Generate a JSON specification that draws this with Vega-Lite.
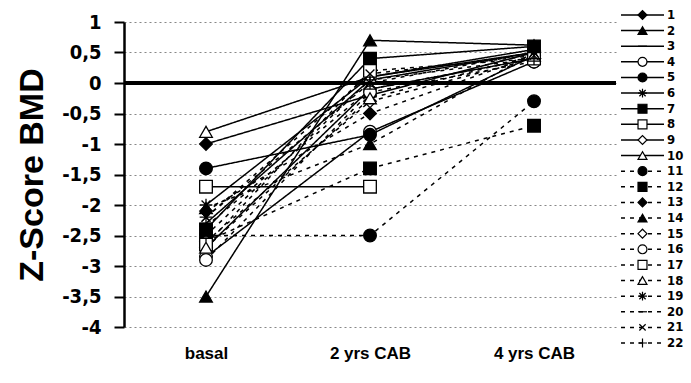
{
  "$schema": "https://vega.github.io/schema/vega-lite/v6.json",
  "background": "white",
  "padding": {"left": 15, "top": 8, "right": 5, "bottom": 5},
  "config": {"view": {"stroke": null}, "font": "Liberation Sans"},
  "datasets": {
    "bmd": [
      {"id": 1, "time": "basal", "z": -1.0}, {"id": 1, "time": "2 yrs CAB", "z": -0.2}, {"id": 1, "time": "4 yrs CAB", "z": 0.5},
      {"id": 2, "time": "basal", "z": -3.5}, {"id": 2, "time": "2 yrs CAB", "z": 0.7}, {"id": 2, "time": "4 yrs CAB", "z": 0.62},
      {"id": 3, "time": "basal", "z": -2.3}, {"id": 3, "time": "2 yrs CAB", "z": 0.05}, {"id": 3, "time": "4 yrs CAB", "z": 0.5},
      {"id": 4, "time": "basal", "z": -2.85}, {"id": 4, "time": "2 yrs CAB", "z": -0.8}, {"id": 4, "time": "4 yrs CAB", "z": 0.35},
      {"id": 5, "time": "basal", "z": -1.4}, {"id": 5, "time": "2 yrs CAB", "z": -0.85}, {"id": 5, "time": "4 yrs CAB", "z": 0.45},
      {"id": 6, "time": "basal", "z": -2.0}, {"id": 6, "time": "2 yrs CAB", "z": 0.1}, {"id": 6, "time": "4 yrs CAB", "z": 0.55},
      {"id": 7, "time": "basal", "z": -2.4}, {"id": 7, "time": "2 yrs CAB", "z": 0.4}, {"id": 7, "time": "4 yrs CAB", "z": 0.6},
      {"id": 8, "time": "basal", "z": -1.7}, {"id": 8, "time": "2 yrs CAB", "z": -1.7},
      {"id": 9, "time": "basal", "z": -2.7}, {"id": 9, "time": "2 yrs CAB", "z": -0.1}, {"id": 9, "time": "4 yrs CAB", "z": 0.4},
      {"id": 10, "time": "basal", "z": -0.8}, {"id": 10, "time": "2 yrs CAB", "z": 0.1}, {"id": 10, "time": "4 yrs CAB", "z": 0.5},
      {"id": 11, "time": "basal", "z": -2.5}, {"id": 11, "time": "2 yrs CAB", "z": -2.5}, {"id": 11, "time": "4 yrs CAB", "z": -0.3},
      {"id": 12, "time": "basal", "z": -2.6}, {"id": 12, "time": "2 yrs CAB", "z": -1.4}, {"id": 12, "time": "4 yrs CAB", "z": -0.7},
      {"id": 13, "time": "basal", "z": -2.1}, {"id": 13, "time": "2 yrs CAB", "z": -0.5}, {"id": 13, "time": "4 yrs CAB", "z": 0.45},
      {"id": 14, "time": "basal", "z": -2.05}, {"id": 14, "time": "2 yrs CAB", "z": -1.0}, {"id": 14, "time": "4 yrs CAB", "z": 0.5},
      {"id": 15, "time": "basal", "z": -2.6}, {"id": 15, "time": "2 yrs CAB", "z": -0.3}, {"id": 15, "time": "4 yrs CAB", "z": 0.4},
      {"id": 16, "time": "basal", "z": -2.9}, {"id": 16, "time": "2 yrs CAB", "z": -0.15}, {"id": 16, "time": "4 yrs CAB", "z": 0.35},
      {"id": 17, "time": "basal", "z": -2.65}, {"id": 17, "time": "2 yrs CAB", "z": 0.2}, {"id": 17, "time": "4 yrs CAB", "z": 0.4},
      {"id": 18, "time": "basal", "z": -2.7}, {"id": 18, "time": "2 yrs CAB", "z": -0.25}, {"id": 18, "time": "4 yrs CAB", "z": 0.45},
      {"id": 19, "time": "basal", "z": -2.2}, {"id": 19, "time": "2 yrs CAB", "z": 0.0}, {"id": 19, "time": "4 yrs CAB", "z": 0.5},
      {"id": 20, "time": "basal", "z": -2.35}, {"id": 20, "time": "2 yrs CAB", "z": -0.1}, {"id": 20, "time": "4 yrs CAB", "z": 0.4},
      {"id": 21, "time": "basal", "z": -2.2}, {"id": 21, "time": "2 yrs CAB", "z": 0.15}, {"id": 21, "time": "4 yrs CAB", "z": 0.45},
      {"id": 22, "time": "basal", "z": -2.5}, {"id": 22, "time": "2 yrs CAB", "z": 0.05}, {"id": 22, "time": "4 yrs CAB", "z": 0.4}
    ]
  },
  "bounds": "flush",
  "spacing": 5,
  "resolve": {"scale": {"x": "independent", "y": "independent"}},
  "hconcat": [
    {
      "width": 492,
      "height": 305,
      "data": {"name": "bmd"},
      "encoding": {
        "x": {"field": "time", "type": "ordinal", "sort": ["basal", "2 yrs CAB", "4 yrs CAB"], "scale": {"type": "point", "padding": 0.5},
          "axis": {"title": null, "domain": false, "ticks": false, "grid": false, "labelAngle": 0, "labelPadding": 18, "labelFont": "Liberation Sans", "labelFontWeight": "bold", "labelFontSize": 17, "labelColor": "black"}},
        "y": {"field": "z", "type": "quantitative", "scale": {"domain": [-4, 1], "nice": false, "zero": false},
          "axis": {"title": "Z-Score BMD", "titleFont": "Liberation Sans", "titleFontSize": 34, "titleFontWeight": "bold", "titleColor": "black", "titlePadding": 12,
            "values": [-4, -3.5, -3, -2.5, -2, -1.5, -1, -0.5, 0, 0.5, 1],
            "labelExpr": "datum.value < 0 ? '-' + replace(format(-datum.value, '.1~f'), '.', ',') : replace(format(datum.value, '.1~f'), '.', ',')",
            "labelOverlap": false,
            "labelFont": "Liberation Sans Narrow, DejaVu Sans Condensed, Liberation Sans", "labelFontSize": 20, "labelFontWeight": "bold", "labelColor": "black", "labelPadding": 13,
            "domainColor": "black", "domainWidth": 2.5, "tickColor": "black", "tickWidth": 2, "tickSize": 10,
            "grid": true, "gridColor": "#888888", "gridDash": [2, 3], "gridWidth": 1.2}}
      },
      "layer": [
        {
          "mark": {"type": "line", "color": "black", "strokeWidth": 1.5},
          "encoding": {
            "detail": {"field": "id", "type": "nominal"},
            "strokeDash": {"field": "id", "type": "nominal", "legend": null,
              "scale": {"domain": [1,2,3,4,5,6,7,8,9,10,11,12,13,14,15,16,17,18,19,20,21,22],
                "range": [[1,0],[1,0],[1,0],[1,0],[1,0],[1,0],[1,0],[1,0],[1,0],[1,0],[4,5],[4,5],[4,5],[4,5],[4,5],[4,5],[4,5],[4,5],[4,5],[4,5],[4,5],[4,5]]}}
          }
        },
        {
          "mark": {"type": "rule", "color": "black", "strokeWidth": 2.5},
          "encoding": {"x": null, "y": {"datum": 0}}
        },
        {
          "mark": {"type": "point", "filled": true, "stroke": "black", "strokeWidth": 1.3, "size": 160, "opacity": 1},
          "encoding": {
            "shape": {"field": "id", "type": "nominal", "legend": null,
              "scale": {"domain": [1,2,3,4,5,6,7,8,9,10,11,12,13,14,15,16,17,18,19,20,21,22],
                "range": ["diamond", "triangle-up", "M-1,0L1,0", "circle", "circle", "M-1,0L1,0M0,-1L0,1M-0.7,-0.7L0.7,0.7M-0.7,0.7L0.7,-0.7", "square", "square", "diamond", "triangle-up",
                  "circle", "square", "diamond", "triangle-up", "diamond", "circle", "square", "triangle-up", "M-1,0L1,0M0,-1L0,1M-0.7,-0.7L0.7,0.7M-0.7,0.7L0.7,-0.7", "M-1,0L1,0", "M-0.7,-0.7L0.7,0.7M-0.7,0.7L0.7,-0.7", "M-1,0L1,0M0,-1L0,1"]}},
            "fill": {"field": "id", "type": "nominal", "legend": null,
              "scale": {"domain": [1,2,3,4,5,6,7,8,9,10,11,12,13,14,15,16,17,18,19,20,21,22],
                "range": ["black", "black", "black", "white", "black", "black", "black", "white", "white", "white", "black", "black", "black", "black", "white", "white", "white", "white", "black", "black", "black", "black"]}}
          }
        }
      ]
    },
    {
      "width": 43,
      "height": 305,
      "data": {"name": "bmd"},
      "transform": [{"filter": "datum.time === 'basal'"}],
      "encoding": {
        "y": {"field": "id", "type": "quantitative", "axis": null, "scale": {"domain": [1.448, 20.975], "reverse": true, "nice": false, "zero": false}}
      },
      "layer": [
        {
          "mark": {"type": "rule", "color": "black", "strokeWidth": 1.5},
          "encoding": {
            "x": {"datum": 0, "type": "quantitative", "scale": {"domain": [0, 1], "nice": false}, "axis": null},
            "x2": {"datum": 1},
            "strokeDash": {"field": "id", "type": "nominal", "legend": null,
              "scale": {"domain": [1,2,3,4,5,6,7,8,9,10,11,12,13,14,15,16,17,18,19,20,21,22],
                "range": [[1,0],[1,0],[1,0],[1,0],[1,0],[1,0],[1,0],[1,0],[1,0],[1,0],[4,5],[4,5],[4,5],[4,5],[4,5],[4,5],[4,5],[4,5],[4,5],[4,5],[4,5],[4,5]]}}
          }
        },
        {
          "mark": {"type": "point", "filled": true, "stroke": "black", "strokeWidth": 1.2, "size": 80, "opacity": 1},
          "encoding": {
            "x": {"datum": 0.5, "type": "quantitative"},
            "shape": {"field": "id", "type": "nominal", "legend": null,
              "scale": {"domain": [1,2,3,4,5,6,7,8,9,10,11,12,13,14,15,16,17,18,19,20,21,22],
                "range": ["diamond", "triangle-up", "M-1,0L1,0", "circle", "circle", "M-1,0L1,0M0,-1L0,1M-0.7,-0.7L0.7,0.7M-0.7,0.7L0.7,-0.7", "square", "square", "diamond", "triangle-up",
                  "circle", "square", "diamond", "triangle-up", "diamond", "circle", "square", "triangle-up", "M-1,0L1,0M0,-1L0,1M-0.7,-0.7L0.7,0.7M-0.7,0.7L0.7,-0.7", "M-1,0L1,0", "M-0.7,-0.7L0.7,0.7M-0.7,0.7L0.7,-0.7", "M-1,0L1,0M0,-1L0,1"]}},
            "fill": {"field": "id", "type": "nominal", "legend": null,
              "scale": {"domain": [1,2,3,4,5,6,7,8,9,10,11,12,13,14,15,16,17,18,19,20,21,22],
                "range": ["black", "black", "black", "white", "black", "black", "black", "white", "white", "white", "black", "black", "black", "black", "white", "white", "white", "white", "black", "black", "black", "black"]}}
          }
        },
        {
          "mark": {"type": "text", "align": "left", "baseline": "middle", "dx": 3, "font": "Liberation Sans Narrow, DejaVu Sans Condensed, Liberation Sans", "fontSize": 13, "fontWeight": "bold", "color": "black"},
          "encoding": {
            "x": {"datum": 1, "type": "quantitative"},
            "text": {"field": "id", "type": "nominal"}
          }
        }
      ]
    }
  ]
}
